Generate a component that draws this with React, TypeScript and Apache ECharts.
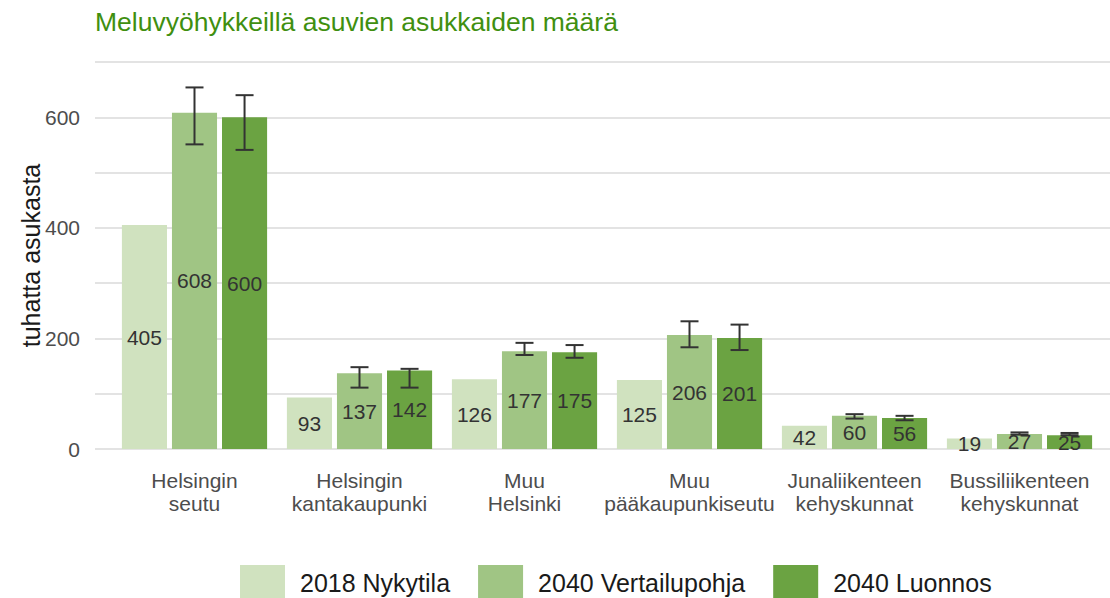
import React, { useEffect, useRef } from "react";
import * as echarts from "echarts";

const categories = [
  "Helsingin\nseutu",
  "Helsingin\nkantakaupunki",
  "Muu\nHelsinki",
  "Muu\npääkaupunkiseutu",
  "Junaliikenteen\nkehyskunnat",
  "Bussiliikenteen\nkehyskunnat",
];
const seriesNames = ["2018 Nykytila", "2040 Vertailupohja", "2040 Luonnos"];
const nykytila = [405, 93, 126, 125, 42, 19];
const vertailupohja = [608, 137, 177, 206, 60, 27];
const luonnos = [600, 142, 175, 201, 56, 25];
const vertailuLow = [551, 111, 170, 184, 55, 26];
const vertailuHigh = [654, 148, 192, 231, 63, 30];
const luonnosLow = [541, 111, 165, 179, 52, 25];
const luonnosHigh = [640, 145, 188, 225, 60, 29];
const yTicks = [0, 100, 200, 300, 400, 500, 600, 700];
const colors = ["#d0e2bf", "#a0c584", "#6ba342"];

const FONT = "'Liberation Sans', Arial, sans-serif";
const CAT_GAP = 0.12;
const BAR_GAP = 0.11;

function errorSeries(low: number[], high: number[], slot: number) {
  return {
    type: "custom",
    xAxisIndex: 0,
    yAxisIndex: 0,
    z: 10,
    silent: true,
    encode: { x: 0, y: [1, 2] },
    data: low.map((l, i) => [i, l, high[i]]),
    renderItem: (params: any, api: any) => {
      const ci = api.value(0);
      const lo = api.value(1);
      const hi = api.value(2);
      const band = api.size([1, 0])[0];
      const bw = (band * (1 - CAT_GAP)) / (3 + 2 * BAR_GAP);
      const off = bw * (1 + BAR_GAP) * slot;
      const pTop = api.coord([ci, hi]);
      const pBot = api.coord([ci, lo]);
      const x = pTop[0] + off;
      const half = 9;
      const style = { stroke: "#333333", lineWidth: 2, fill: "none" };
      return {
        type: "group",
        children: [
          { type: "line", shape: { x1: x, y1: pTop[1], x2: x, y2: pBot[1] }, style },
          { type: "line", shape: { x1: x - half, y1: pTop[1], x2: x + half, y2: pTop[1] }, style },
          { type: "line", shape: { x1: x - half, y1: pBot[1], x2: x + half, y2: pBot[1] }, style },
        ],
      };
    },
  };
}

function barSeries(name: string, data: number[], color: string) {
  return {
    type: "bar",
    name,
    xAxisIndex: 0,
    yAxisIndex: 0,
    data,
    barCategoryGap: CAT_GAP * 100 + "%",
    barGap: BAR_GAP * 100 + "%",
    itemStyle: { color },
    label: {
      show: true,
      position: "inside",
      color: "#333333",
      fontSize: 21,
      fontFamily: FONT,
    },
  };
}

export default function App() {
  const ref = useRef<HTMLDivElement>(null);
  useEffect(() => {
    if (!ref.current) return;
    const chart = echarts.init(ref.current, undefined, { renderer: "svg" });
    chart.setOption({
      animation: false,
      backgroundColor: "#ffffff",
      textStyle: { fontFamily: FONT },
      title: {
        text: "Meluvyöhykkeillä asuvien asukkaiden määrä",
        left: 90,
        top: 3,
        textStyle: { fontSize: 26.5, fontWeight: "normal", color: "#3f8f10", fontFamily: FONT },
      },
      legend: {
        left: 235,
        top: 560,
        itemWidth: 45,
        itemHeight: 36,
        itemGap: 28,
        icon: "rect",
        data: seriesNames,
        textStyle: { fontSize: 25, color: "#1a1a1a", padding: [0, 0, 0, 10], fontFamily: FONT },
      },
      grid: [
        { left: 112, right: 8, top: 62, bottom: 149 },
        { left: 95, right: 0, top: 62, bottom: 149 },
      ],
      xAxis: [
        {
          type: "category",
          gridIndex: 0,
          data: categories,
          axisLine: { show: false },
          axisTick: { show: false },
          axisLabel: {
            interval: 0,
            margin: 20,
            fontSize: 21,
            lineHeight: 23,
            color: "#4d4d4d",
            fontFamily: FONT,
          },
        },
        { type: "value", gridIndex: 1, show: false, min: 0, max: 1 },
      ],
      yAxis: [
        { type: "value", gridIndex: 0, min: 0, max: 700, show: false },
        {
          type: "value",
          gridIndex: 1,
          min: 0,
          max: 700,
          interval: 100,
          name: "tuhatta asukasta",
          nameLocation: "middle",
          nameGap: 52,
          nameMoveOverlap: false,
          nameRotate: 90,
          nameTextStyle: { fontSize: 25, color: "#1a1a1a", fontFamily: FONT },
          axisLine: { show: false },
          axisTick: { show: false },
          axisLabel: {
            margin: 15,
            fontSize: 21,
            color: "#4d4d4d",
            fontFamily: FONT,
            formatter: (v: number) => (yTicks.includes(v) && v % 200 === 0 ? String(v) : ""),
          },
          splitLine: { show: true, lineStyle: { color: "#e3e3e3", width: 2 } },
        },
      ],
      series: [
        barSeries(seriesNames[0], nykytila, colors[0]),
        barSeries(seriesNames[1], vertailupohja, colors[1]),
        barSeries(seriesNames[2], luonnos, colors[2]),
        errorSeries(vertailuLow, vertailuHigh, 0),
        errorSeries(luonnosLow, luonnosHigh, 1),
      ],
    });
    return () => chart.dispose();
  }, []);
  return (
    <div
      ref={ref}
      style={{ position: "fixed", left: 0, top: 0, width: 1110, height: 598 }}
    />
  );
}
